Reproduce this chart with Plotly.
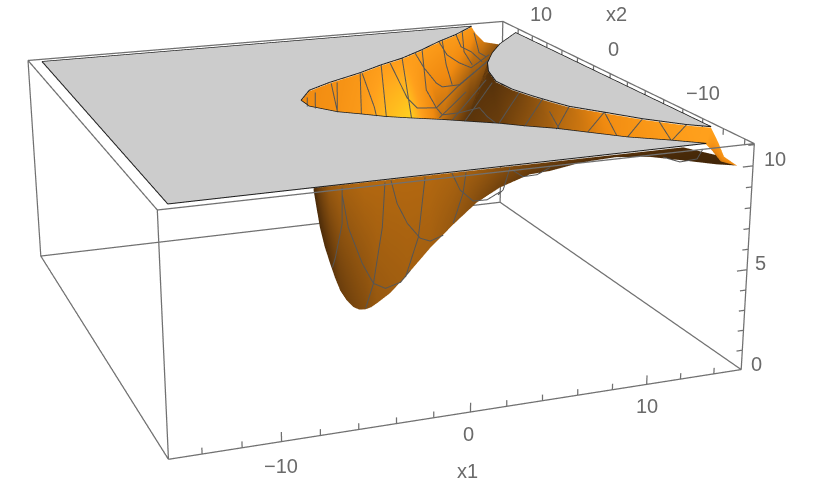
import plotly.graph_objects as go

# view of the box, fitted against its eight corners
eye = dict(x=-1.86159, y=-5.24989, z=1.74532)
center = dict(x=0.13091, y=-0.10250, z=-0.11323)
up = dict(x=-0.00693, y=-0.00551, z=1)
aspect = dict(x=1.66568, y=1.71163, z=0.66582)

x1_range = [-15.7, 15.7]
x2_range = [-14.9, 14.3]
z_range = [0, 11.07]
x2_shift = 1.1

x1_ticks = [-14, -12, -10, -8, -6, -4, -2, 0, 2, 4, 6, 8, 10, 12, 14]
x2_ticks = [-14, -12, -10, -8, -6, -4, -2, 0, 2, 4, 6, 8, 10, 12]
z_ticks = [0, 1, 2, 3, 4, 5, 6, 7, 8, 9, 10, 11]

# clipped top of the surface
top_level = 11.0
corner_back_left = (-14.89, 12.79)
corner_front_left = (-14.95, -15.17)
corner_front_right = (13.46, -15.00)
corner_back_right = (15.13, 10.19)

# edge of the hole in the clipped top
upper_x1 = [-3.21, -2.06, -0.40, 2.07, 3.90, 5.73, 7.68, 9.57, 11.30, 13.24, 12.71, 12.24, 12.90,
            11.44, 10.10, 9.30, 8.72, 8.83, 9.26, 9.66, 10.17, 11.41, 12.71, 14.31, 15.33]
upper_x2 = [-0.48, 1.36, 2.58, 4.05, 5.35, 6.45, 7.99, 9.64, 10.96, 12.75, 10.99, 8.76, 7.83,
            5.88, 3.74, 1.91, -0.29, -2.24, -3.88, -5.10, -6.47, -8.14, -9.94, -11.66, -12.45]
lower_x1 = [-3.21, -3.19, -2.13, -1.10, -0.02, 1.13, 2.60, 3.64, 5.13, 6.16, 7.52, 8.73, 10.26, 12.07, 13.46]
lower_x2 = [-0.48, -1.77, -3.32, -4.14, -5.05, -5.75, -6.58, -7.27, -8.22, -9.10, -10.06, -11.23, -12.69, -13.93, -15.00]
lower_index = [0, 1, 2, 3, 4, 5, 6, 6, 6, 7, 7, 7, 7, 7, 7, 8, 8, 9, 10, 10, 11, 12, 13, 14, 14]

upper_shade = [0.60, 0.62, 0.65, 0.72, 0.78, 0.78, 0.78, 0.75, 0.75, 0.72, 0.60, 0.50, 0.30,
               0.20, 0.15, 0.12, 0.15, 0.20, 0.30, 0.38, 0.45, 0.62, 0.72, 0.78, 0.80]
lower_shade = [0.60, 0.62, 0.68, 0.75, 0.90, 1.00, 0.45, 0.45, 0.45, 0.15, 0.15, 0.15, 0.15,
               0.15, 0.15, 0.20, 0.20, 0.30, 0.40, 0.42, 0.52, 0.68, 0.75, 0.80, 0.80]

# tail of the strip, where it drops below the clipped top
tail_upper_x1 = [14.11, 14.48, 15.31]
tail_upper_z = [11.0, 10.32, 9.80]
tail_lower_x1 = [13.72, 14.30, 15.31]
tail_lower_z = [10.71, 10.11, 9.80]
tail_upper_shade = [0.78, 0.70, 0.62]
tail_lower_shade = [0.55, 0.50, 0.60]

# dip under the front edge
dip_x1 = [-7.79, -7.51, -7.28, -7.02, -6.78, -6.52, -6.20, -5.85, -5.55, -5.23, -4.93, -4.62, -3.92, -3.04, -1.81,
          -0.60, 0.65, 1.89, 3.51, 4.60, 6.42, 8.30, 10.19, 12.11, 14.10, 15.31]
dip_z = [10.85, 9.20, 8.30, 7.52, 6.85, 6.23, 5.75, 5.39, 5.24, 5.21, 5.27, 5.42, 5.81, 6.54, 7.65,
         8.59, 9.47, 10.04, 10.49, 10.54, 10.78, 10.84, 10.68, 10.34, 9.97, 9.80]
dip_top_z = [10.95, 10.95, 10.95, 10.95, 10.95, 10.95, 10.95, 10.95, 10.95, 10.95, 10.95, 10.95, 10.95, 10.95, 10.95,
             10.95, 10.95, 10.95, 10.95, 10.95, 10.95, 10.95, 10.95, 10.95, 10.40, 9.80]
dip_top_shade = [0.10, 0.22, 0.28, 0.34, 0.36, 0.38, 0.39, 0.40, 0.41, 0.42, 0.42, 0.42, 0.42, 0.42, 0.42,
                 0.40, 0.36, 0.30, 0.24, 0.20, 0.16, 0.14, 0.12, 0.10, 0.08, 0.06]
dip_bottom_shade = [0.08, 0.10, 0.12, 0.14, 0.17, 0.20, 0.22, 0.24, 0.26, 0.28, 0.31, 0.34, 0.36, 0.38, 0.38,
                    0.34, 0.28, 0.22, 0.18, 0.15, 0.12, 0.10, 0.10, 0.08, 0.07, 0.06]

# mesh lines inside the hole, (x1, x2)
hole_mesh = [
    [(-2.67, 0.00), (-3.30, -1.74)],
    [(-1.89, 0.85), (-3.02, -2.25)],
    [(-0.35, 2.40), (-2.10, -3.19)],
    [(0.05, 2.50), (-2.17, -3.37)],
    [(2.05, 3.98), (-1.08, -4.14)],
    [(2.16, 3.95), (0.10, -3.07), (-0.46, -4.76)],
    [(3.92, 5.34), (-0.03, -5.11)],
    [(4.61, 5.62), (2.52, -1.94), (2.24, -4.00), (3.23, -4.32), (5.99, -0.85), (10.05, 3.83)],
    [(5.76, 6.52), (1.17, -5.71)],
    [(6.99, 7.42), (6.06, 3.89), (5.35, 0.52), (5.32, -0.40), (6.42, -0.30), (10.54, 4.43)],
    [(7.70, 7.98), (4.20, -0.71), (3.23, -4.32), (2.97, -5.69), (4.00, -5.62), (5.45, -5.06), (5.10, -6.81), (4.98, -8.17)],
    [(9.53, 9.56), (8.64, 6.35), (8.52, 4.33), (8.70, 3.02), (11.07, 5.55)],
    [(9.93, 9.99), (7.59, 4.13), (6.04, -0.17)],
    [(11.32, 10.95), (10.30, 7.94), (10.35, 6.58), (9.93, 4.12)],
    [(12.26, 12.09), (9.94, 6.72), (9.06, 3.65)],
    [(12.64, 11.10), (10.70, 6.20), (10.68, 5.16)],
    [(2.58, -6.18), (6.16, -1.81)],
    [(3.09, -6.75), (8.36, 0.23)],
    [(3.53, -7.30), (8.40, -0.49)],
    [(5.21, -8.05), (8.90, -2.94)],
    [(6.13, -9.15), (9.45, -4.67)],
    [(8.71, -6.97), (7.62, -10.23)],
    [(7.47, -10.18), (10.20, -6.42)],
    [(8.75, -11.18), (11.44, -8.08)],
    [(11.44, -8.08), (9.91, -12.14)],
    [(10.27, -12.64), (12.70, -9.93)],
    [(13.26, -10.72), (12.05, -13.98)],
    [(12.05, -13.98), (14.33, -11.67)],
]

# mesh lines on the dip, (x1, z)
dip_mesh = [
    [(-6.37, 10.85), (-6.39, 9.25), (-6.76, 7.76), (-6.92, 7.33)],
    [(-6.38, 10.58), (-6.08, 9.04), (-5.38, 7.34), (-4.81, 6.37), (-4.18, 6.07), (-3.39, 6.26), (-2.87, 6.75)],
    [(-4.18, 10.87), (-4.33, 8.87), (-4.81, 6.37), (-5.23, 5.26)],
    [(-3.87, 10.93), (-3.56, 9.87), (-3.03, 8.92), (-2.35, 8.17), (-1.82, 7.98), (-1.13, 8.18)],
    [(-2.10, 10.90), (-2.45, 8.22), (-3.13, 6.46)],
    [(-0.69, 10.95), (-0.25, 10.15), (0.45, 9.58), (1.20, 9.56), (1.90, 9.86)],
    [(0.06, 10.93), (-0.09, 10.00), (-0.60, 8.68)],
    [(2.41, 10.90), (2.06, 9.93), (1.79, 9.73)],
    [(2.52, 10.80), (3.13, 10.43), (3.89, 10.45), (4.60, 10.71)],
    [(10.94, 10.61), (11.94, 10.29), (12.93, 10.34), (13.25, 10.79)],
]

surface_scale = [[0, "#2e1a05"], [0.15, "#5a340b"], [0.35, "#9a5a10"], [0.6, "#f08a10"], [0.8, "#ffa01c"], [1, "#ffd21f"]]
flat = dict(ambient=1, diffuse=0, specular=0, fresnel=0)
x2s = x2_shift


def triangulate(pts):
    # ear clipping, the top pieces are not convex
    def cross(a, b, c):
        return (b[0] - a[0]) * (c[1] - a[1]) - (b[1] - a[1]) * (c[0] - a[0])
    area = sum(pts[i][0] * pts[(i + 1) % len(pts)][1] - pts[(i + 1) % len(pts)][0] * pts[i][1] for i in range(len(pts)))
    idx = list(range(len(pts))) if area > 0 else list(range(len(pts)))[::-1]
    tris = []
    while len(idx) > 3:
        for n in range(len(idx)):
            a, b, c = idx[n - 1], idx[n], idx[(n + 1) % len(idx)]
            if cross(pts[a], pts[b], pts[c]) <= 1e-9:
                continue
            inside = False
            for m in idx:
                if m in (a, b, c):
                    continue
                if cross(pts[a], pts[b], pts[m]) >= 0 and cross(pts[b], pts[c], pts[m]) >= 0 and cross(pts[c], pts[a], pts[m]) >= 0:
                    inside = True
                    break
            if not inside:
                tris.append((a, b, c))
                idx.pop(n)
                break
        else:
            break
    tris.append(tuple(idx[:3]))
    return tris


def add_piece(fig, pts):
    tris = triangulate(pts)
    fig.add_trace(go.Mesh3d(
        x=[p[0] for p in pts], y=[p[1] + x2s for p in pts], z=[top_level] * len(pts),
        i=[t[0] for t in tris], j=[t[1] for t in tris], k=[t[2] for t in tris],
        color="#cccccc", flatshading=True, lighting=flat, hoverinfo="skip", showscale=False))


def add_lines(fig, segs, color, width):
    xs, ys, zs = [], [], []
    for seg in segs:
        xs += [p[0] for p in seg] + [None]
        ys += [p[1] for p in seg] + [None]
        zs += [p[2] for p in seg] + [None]
    fig.add_trace(go.Scatter3d(x=xs, y=ys, z=zs, mode="lines", line=dict(color=color, width=width),
                               hoverinfo="skip", showlegend=False))


upper = list(zip(upper_x1, upper_x2))
lower = list(zip(lower_x1, lower_x2))
front_piece = [corner_back_left, corner_front_left] + lower[:0:-1] + upper[:10]
right_piece = upper[12:] + [corner_back_right]

fig = go.Figure()
add_piece(fig, front_piece)
add_piece(fig, right_piece)

# strip seen through the hole
sheet = 10.96
row_u_x1 = upper_x1 + tail_upper_x1
row_u_x2 = [v + x2s for v in upper_x2] + [-15.1 + x2s] * 3
row_u_z = [sheet] * len(upper_x1) + tail_upper_z
row_l_x1 = [lower_x1[n] for n in lower_index] + tail_lower_x1
row_l_x2 = [lower_x2[n] + x2s for n in lower_index] + [-15.1 + x2s] * 3
row_l_z = [sheet] * len(lower_index) + tail_lower_z
fig.add_trace(go.Surface(
    x=[row_u_x1, row_l_x1], y=[row_u_x2, row_l_x2], z=[row_u_z, row_l_z],
    surfacecolor=[upper_shade + tail_upper_shade, lower_shade + tail_lower_shade],
    colorscale=surface_scale, cmin=0, cmax=1, showscale=False, lighting=flat, hoverinfo="skip"))

# dip
dip_x2 = -15.016 + x2s
fig.add_trace(go.Surface(
    x=[dip_x1, dip_x1], y=[[dip_x2] * len(dip_x1)] * 2, z=[dip_top_z, dip_z],
    surfacecolor=[dip_top_shade, dip_bottom_shade],
    colorscale=surface_scale, cmin=0, cmax=1, showscale=False, lighting=flat, hoverinfo="skip"))

# mesh and outlines
add_lines(fig, [[(a, b + x2s, top_level) for a, b in seg] for seg in hole_mesh], "#555555", 2)
add_lines(fig, [[(a, dip_x2 - 0.04, b) for a, b in seg] for seg in dip_mesh], "#555555", 2)
outline = [(p[0], p[1] + x2s, top_level + 0.01) for p in front_piece + front_piece[:1]]
outline2 = [(p[0], p[1] + x2s, top_level + 0.01) for p in right_piece + right_piece[:1]]
add_lines(fig, [outline, outline2], "#1a1a1a", 2)

# box and ticks, a hair inside the ranges since lines right on the bound get clipped
inset = 0.04
a0, a1 = x1_range[0] + inset, x1_range[1] - inset
b0, b1 = x2_range[0] + inset, x2_range[1] - inset
c0, c1 = z_range[0] + inset / 2, z_range[1] - inset / 2
box = [
    [(a0, b0, c1), (a1, b0, c1), (a1, b1, c1), (a0, b1, c1), (a0, b0, c1)],
    [(a0, b0, c0), (a1, b0, c0), (a1, b1, c0), (a0, b1, c0), (a0, b0, c0)],
    [(a0, b0, c0), (a0, b0, c1)], [(a1, b0, c0), (a1, b0, c1)],
    [(a1, b1, c0), (a1, b1, c1)], [(a0, b1, c0), (a0, b1, c1)],
]
ticks = []
for t in x1_ticks:
    ticks.append([(t, b0, c0), (t, b0, c0 + (0.45 if t % 10 == 0 else 0.3))])
for t in x2_ticks:
    ticks.append([(a1, t, c1), (a1, t, c1 - (0.45 if t % 10 == 0 else 0.3))])
for t in z_ticks:
    ticks.append([(a1, b0, t + (c0 if t == 0 else 0)), (a1 - (0.6 if t % 5 == 0 else 0.35), b0, t + (c0 if t == 0 else 0))])
add_lines(fig, box + ticks, "#707070", 2.5)

label_font = dict(family="Liberation Sans", size=20, color="#6a6a6a")


def label(x, y, z, text, dx, dy):
    return dict(x=x, y=y, z=z, text=text, showarrow=False, xshift=dx, yshift=dy, font=label_font,
                xanchor="center", yanchor="middle")


labels = [
    label(-10, b0, c0, "\u221210", -1, -24),
    label(0, b0, c0, "0", -2, -22),
    label(10, b0, c0, "10", 0, -22),
    label(0, b0, c0, "x1", -3, -59),
    label(a1, 10, c1, "10", 9, 22),
    label(a1, 0, c1, "0", 3, 25),
    label(a1, -10, c1, "\u221210", 0, 26),
    label(a1, 0, c1, "x2", 6, 60),
    label(a1, b0, 10, "10", 22, 7),
    label(a1, b0, 5, "5", 14, 7),
    label(a1, b0, c0, "0", 15, 6),
]

hidden = dict(visible=False, showspikes=False)
fig.update_layout(
    width=830, height=1600, margin=dict(l=0, r=0, t=0, b=0), showlegend=False,
    paper_bgcolor="white",
    scene=dict(
        domain=dict(x=[0, 1], y=[0, 1]), bgcolor="white", aspectmode="manual", aspectratio=aspect,
        xaxis=dict(hidden, range=x1_range), yaxis=dict(hidden, range=x2_range), zaxis=dict(hidden, range=z_range),
        camera=dict(eye=eye, center=center, up=up, projection=dict(type="perspective")),
        annotations=labels),
)

# long lens: the scene is taller than the window, its middle sits at the window's middle
shift = "var s=document.body.style;s.margin='0';s.overflow='hidden';document.documentElement.style.overflow='hidden';document.getElementById('{plot_id}').style.marginTop='-554px';"
fig.write_html("out.html", post_script=shift)
